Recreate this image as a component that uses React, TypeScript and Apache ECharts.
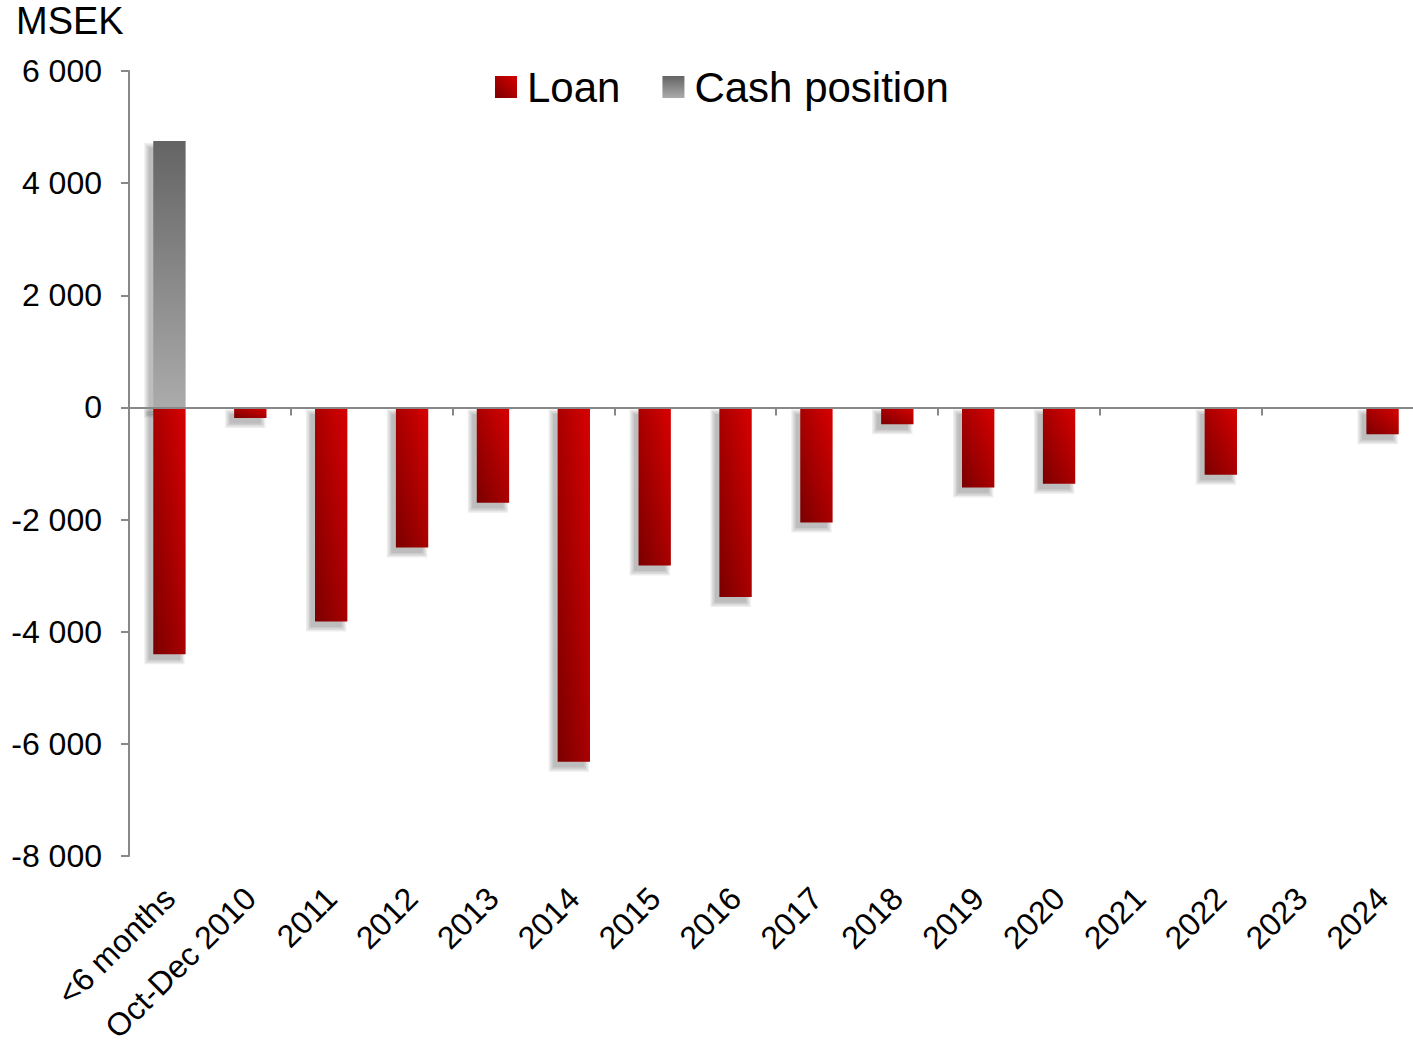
import React, { useEffect, useRef } from "react";
import * as echarts from "echarts";

const categories = ["<6 months", "Oct-Dec 2010", "2011", "2012", "2013", "2014", "2015", "2016", "2017", "2018", "2019", "2020", "2021", "2022", "2023", "2024"];
const loanValues = [-4400, -190, -3820, -2500, -1700, -6320, -2820, -3380, -2050, -300, -1430, -1360, 0, -1200, 0, -480];
const cashValues = [4750, 0, 0, 0, 0, 0, 0, 0, 0, 0, 0, 0, 0, 0, 0, 0];
const yMin = -8000;
const yMax = 6000;
const yInterval = 2000;

const fontFamily = "Liberation Sans, Arial, sans-serif";

export default function App() {
  const ref = useRef<HTMLDivElement>(null);
  useEffect(() => {
    if (!ref.current) return;
    const chart = echarts.init(ref.current, null, { renderer: "svg" });
    const loanColor = new echarts.graphic.LinearGradient(0, 1, 1, 0, [
      { offset: 0, color: "#7a0000" },
      { offset: 1, color: "#d80000" },
    ]);
    const cashColor = new echarts.graphic.LinearGradient(0, 0, 0, 1, [
      { offset: 0, color: "#646464" },
      { offset: 1, color: "#ababab" },
    ]);
    const shadowData = categories.map((_, i) => [i, loanValues[i], cashValues[i]]);
    chart.setOption({
      animation: false,
      textStyle: { fontFamily },
      graphic: [
        {
          type: "text",
          left: 16,
          top: 2,
          style: { text: "MSEK", fontSize: 38, fontFamily, fill: "#000" },
        },
      ],
      legend: {
        left: 495,
        top: 66,
        padding: 0,
        itemWidth: 22,
        itemHeight: 22,
        itemGap: 42,
        textStyle: { fontSize: 42, color: "#000", fontFamily, padding: [0, 0, 0, 5] },
        data: [
          { name: "Loan", icon: "rect" },
          { name: "Cash position", icon: "rect" },
        ],
      },
      grid: { left: 129, right: 0, top: 71, bottom: 188, containLabel: false, outerBoundsMode: "none" },
      xAxis: [
        {
          type: "category",
          data: categories,
          axisLine: { onZero: true, lineStyle: { color: "#888", width: 2 } },
          axisTick: { show: true, length: 8, lineStyle: { color: "#888", width: 2 } },
          axisLabel: { show: false },
          splitLine: { show: false },
          z: 5,
        },
        {
          type: "category",
          data: categories,
          position: "bottom",
          axisLine: { show: false, onZero: false },
          axisTick: { show: false },
          axisLabel: {
            show: true,
            rotate: 45,
            interval: 0,
            fontSize: 32,
            color: "#000",
            fontFamily,
            margin: 37,
          },
        },
      ],
      yAxis: {
        type: "value",
        min: yMin,
        max: yMax,
        interval: yInterval,
        axisLine: { show: true, lineStyle: { color: "#888", width: 2 } },
        axisTick: { show: true, length: 8, lineStyle: { color: "#888", width: 2 } },
        splitLine: { show: false },
        axisLabel: {
          fontSize: 32,
          color: "#000",
          fontFamily,
          margin: 27,
          formatter: (v: number) => {
            const s = Math.abs(v).toString().replace(/\B(?=(\d{3})+(?!\d))/g, " ");
            return (v < 0 ? "-" : "") + s;
          },
        },
      },
      series: [
        {
          name: "shadow",
          type: "custom",
          silent: true,
          z: 1,
          data: shadowData,
          renderItem: (params: any, api: any) => {
            const i = api.value(0);
            const lo = api.value(1);
            const hi = api.value(2);
            const w = api.size([1, 0])[0] * 0.4;
            const x0 = api.coord([i, 0])[0] - w / 2;
            const children: any[] = [];
            const addShadow = (v: number) => {
              if (!v) return;
              const pZero = api.coord([i, 0])[1];
              const pv = api.coord([i, v])[1];
              const top = Math.min(pZero, pv);
              const h = Math.abs(pv - pZero);
              const ox = -5;
              const oy = 6;
              for (let k = 0; k < 4; k++) {
                const e = 4 - k * 1.5;
                children.push({
                  type: "rect",
                  shape: { x: x0 + ox - e, y: top + oy - e, width: w + 2 * e, height: h + 2 * e },
                  style: { fill: "rgba(0,0,0,0.07)" },
                });
              }
            };
            addShadow(lo);
            addShadow(hi);
            return { type: "group", children };
          },
        },
        {
          name: "Loan",
          type: "bar",
          stack: "total",
          barWidth: "40%",
          z: 2,
          data: loanValues,
          itemStyle: { color: loanColor },
        },
        {
          name: "Cash position",
          type: "bar",
          stack: "total",
          barWidth: "40%",
          z: 2,
          data: cashValues,
          itemStyle: { color: cashColor },
        },
      ],
    });
    return () => chart.dispose();
  }, []);
  return (
    <div style={{ position: "absolute", left: 0, top: 0, width: 1413, height: 1044, overflow: "hidden", background: "#fff" }}>
      <div ref={ref} style={{ position: "absolute", left: 0, top: 0, width: 1423, height: 1044 }} />
    </div>
  );
}
